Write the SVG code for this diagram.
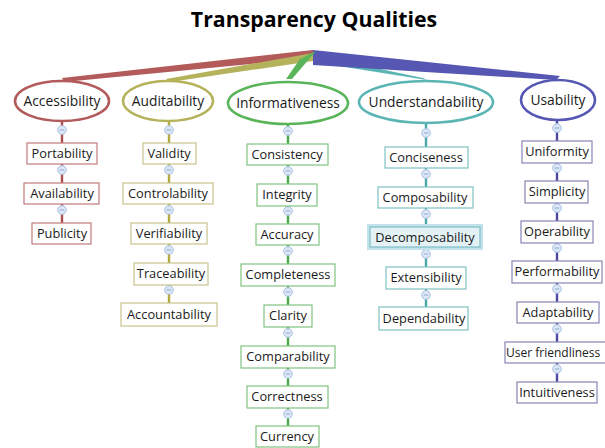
<svg xmlns="http://www.w3.org/2000/svg" width="605" height="448" viewBox="0 0 605 448">
<style>
.t{font-family:"Open Sans","Noto Sans","DejaVu Sans",sans-serif;font-size:12.8px;fill:#1a1a1a;text-anchor:middle}
.h{font-family:"Open Sans","Noto Sans","DejaVu Sans",sans-serif;font-size:13.8px;fill:#1a1a1a;text-anchor:middle}
.title{font-family:"Open Sans","Noto Sans","DejaVu Sans",sans-serif;font-size:21.3px;font-weight:bold;fill:#000;text-anchor:middle}
rect{fill:#fff;stroke-width:1.2}
ellipse{fill:#fff;stroke-width:2.6}
.r rect{stroke:#c27a7a}.o rect{stroke:#c9c48c}.g rect{stroke:#80c480}.c rect{stroke:#80c2c2}.b rect{stroke:#8585b5}
.lr{stroke:#b04e4e}.lo{stroke:#b3aa3f}.lg{stroke:#4aa94a}.lc{stroke:#4aa8a8}.lb{stroke:#4a4aa0}
#connectors line{stroke-width:2.4}
.k circle{fill:#dde7f6;stroke:#a9c1e3;stroke-width:1}
.k line{stroke:#8fa9d4;stroke-width:1}
</style>
<defs>
<g id="knob" class="k"><circle cx="0" cy="0" r="4.3"/><line x1="-2.2" y1="0" x2="2.2" y2="0"/></g>
</defs>
<rect x="0" y="0" width="605" height="448" style="fill:#fff;stroke:none"/>
<text class="title" x="314" y="27">Transparency Qualities</text>

<g id="connectors">
<polygon points="313,50 62,78 64,82 313,58" fill="#b35a5a"/>
<polygon points="313,53 166,79 170,82 313,61" fill="#b5b25c"/>
<polygon points="313,55 423,78 427,80 313,62" fill="#5bb5b5"/>
<polygon points="313,50 560,76 556,80 313,65" fill="#5656b3"/>
<polygon points="300,59 316,51 292,79 286,79" fill="#5ab55a"/>
<line class="lr" x1="62" y1="121" x2="62" y2="223"/>
<line class="lo" x1="169" y1="121" x2="169" y2="303"/>
<line class="lg" x1="288" y1="124" x2="288" y2="426"/>
<line class="lc" x1="426" y1="123" x2="426" y2="307"/>
<line class="lb" x1="557" y1="120" x2="557" y2="382"/>
<use href="#knob" x="62" y="130"/><use href="#knob" x="62" y="170"/><use href="#knob" x="62" y="210"/>
<use href="#knob" x="169" y="130"/><use href="#knob" x="169" y="170"/><use href="#knob" x="169" y="210"/><use href="#knob" x="169" y="250"/><use href="#knob" x="169" y="290"/>
<use href="#knob" x="288" y="131"/><use href="#knob" x="288" y="171"/><use href="#knob" x="288" y="211"/><use href="#knob" x="288" y="251"/><use href="#knob" x="288" y="292"/><use href="#knob" x="288" y="333"/><use href="#knob" x="288" y="374"/><use href="#knob" x="288" y="414"/>
<use href="#knob" x="426" y="133"/><use href="#knob" x="426" y="174"/><use href="#knob" x="426" y="214"/><use href="#knob" x="426" y="254"/><use href="#knob" x="426" y="295"/>
<use href="#knob" x="557" y="128"/><use href="#knob" x="557" y="168"/><use href="#knob" x="557" y="208"/><use href="#knob" x="557" y="248"/><use href="#knob" x="557" y="289"/><use href="#knob" x="557" y="329"/><use href="#knob" x="557" y="369"/>
</g>

<g id="accessibility"><ellipse cx="62" cy="101" rx="47" ry="20" stroke="#b35a5a"/><text class="h" x="62" y="106">Accessibility</text></g>
<g id="auditability"><ellipse cx="168" cy="101" rx="45" ry="20" stroke="#b5b25c"/><text class="h" x="168" y="106">Auditability</text></g>
<g id="informativeness"><ellipse cx="288" cy="103" rx="60" ry="21" stroke="#5ab55a"/><text class="h" x="288" y="108">Informativeness</text></g>
<g id="understandability"><ellipse cx="426" cy="102" rx="67" ry="21" stroke="#5bb5b5"/><text class="h" x="426" y="107">Understandability</text></g>
<g id="usability"><ellipse cx="558" cy="100" rx="37" ry="20" stroke="#5656b3"/><text class="h" x="558" y="105">Usability</text></g>

<g class="r">
<g id="portability"><rect x="27" y="143" width="70" height="21"/><text class="t" x="62" y="158">Portability</text></g>
<g id="availability"><rect x="24" y="183" width="75" height="21"/><text class="t" x="62" y="198">Availability</text></g>
<g id="publicity"><rect x="32" y="223" width="59" height="21"/><text class="t" x="62" y="238">Publicity</text></g>
</g>
<g class="o">
<g id="validity"><rect x="143" y="143" width="53" height="21"/><text class="t" x="169" y="158">Validity</text></g>
<g id="controlability"><rect x="123" y="183" width="90" height="21"/><text class="t" x="168" y="198">Controlability</text></g>
<g id="verifiability"><rect x="131" y="223" width="76" height="21"/><text class="t" x="169" y="238">Verifiability</text></g>
<g id="traceability"><rect x="134" y="263" width="74" height="22"/><text class="t" x="171" y="278">Traceability</text></g>
<g id="accountability"><rect x="121" y="303" width="96" height="23"/><text class="t" x="169" y="319">Accountability</text></g>
</g>
<g class="g">
<g id="consistency"><rect x="247" y="144" width="81" height="21"/><text class="t" x="287" y="159">Consistency</text></g>
<g id="integrity"><rect x="257" y="184" width="60" height="22"/><text class="t" x="287" y="199">Integrity</text></g>
<g id="accuracy"><rect x="256" y="224" width="63" height="21"/><text class="t" x="287" y="239">Accuracy</text></g>
<g id="completeness"><rect x="241" y="264" width="94" height="22"/><text class="t" x="288" y="279">Completeness</text></g>
<g id="clarity"><rect x="264" y="305" width="48" height="22"/><text class="t" x="288" y="320">Clarity</text></g>
<g id="comparability"><rect x="241" y="346" width="94" height="22"/><text class="t" x="288" y="361">Comparability</text></g>
<g id="correctness"><rect x="247" y="386" width="81" height="22"/><text class="t" x="287" y="401">Correctness</text></g>
<g id="currency"><rect x="256" y="426" width="63" height="21"/><text class="t" x="287" y="441">Currency</text></g>
</g>
<g class="c">
<g id="conciseness"><rect x="385" y="147" width="83" height="21"/><text class="t" x="426" y="162">Conciseness</text></g>
<g id="composability"><rect x="378" y="187" width="95" height="21"/><text class="t" x="425" y="202">Composability</text></g>
<g id="decomposability"><rect x="369" y="226" width="112" height="22" style="fill:none;stroke:#c4e2ea;stroke-width:4"/><rect x="370" y="227" width="110" height="20" style="fill:#e4f1f5;stroke:#7ebfc8"/><text class="t" x="425" y="242">Decomposability</text></g>
<g id="extensibility"><rect x="386" y="267" width="80" height="22"/><text class="t" x="426" y="282">Extensibility</text></g>
<g id="dependability"><rect x="379" y="307" width="89" height="23"/><text class="t" x="424" y="323">Dependability</text></g>
</g>
<g class="b">
<g id="uniformity"><rect x="522" y="141" width="70" height="22"/><text class="t" x="557" y="156">Uniformity</text></g>
<g id="simplicity"><rect x="525" y="181" width="63" height="22"/><text class="t" x="557" y="196">Simplicity</text></g>
<g id="operability"><rect x="521" y="221" width="72" height="22"/><text class="t" x="557" y="236">Operability</text></g>
<g id="performability"><rect x="512" y="261" width="90" height="22"/><text class="t" x="557" y="276">Performability</text></g>
<g id="adaptability"><rect x="517" y="302" width="82" height="21"/><text class="t" x="558" y="317">Adaptability</text></g>
<g id="user-friendliness"><rect x="505" y="342" width="110" height="21"/><text class="t" x="506" y="357" style="text-anchor:start;font-size:12px">User friendliness</text></g>
<g id="intuitiveness"><rect x="517" y="382" width="80" height="21"/><text class="t" x="557" y="397">Intuitiveness</text></g>
</g>
</svg>
